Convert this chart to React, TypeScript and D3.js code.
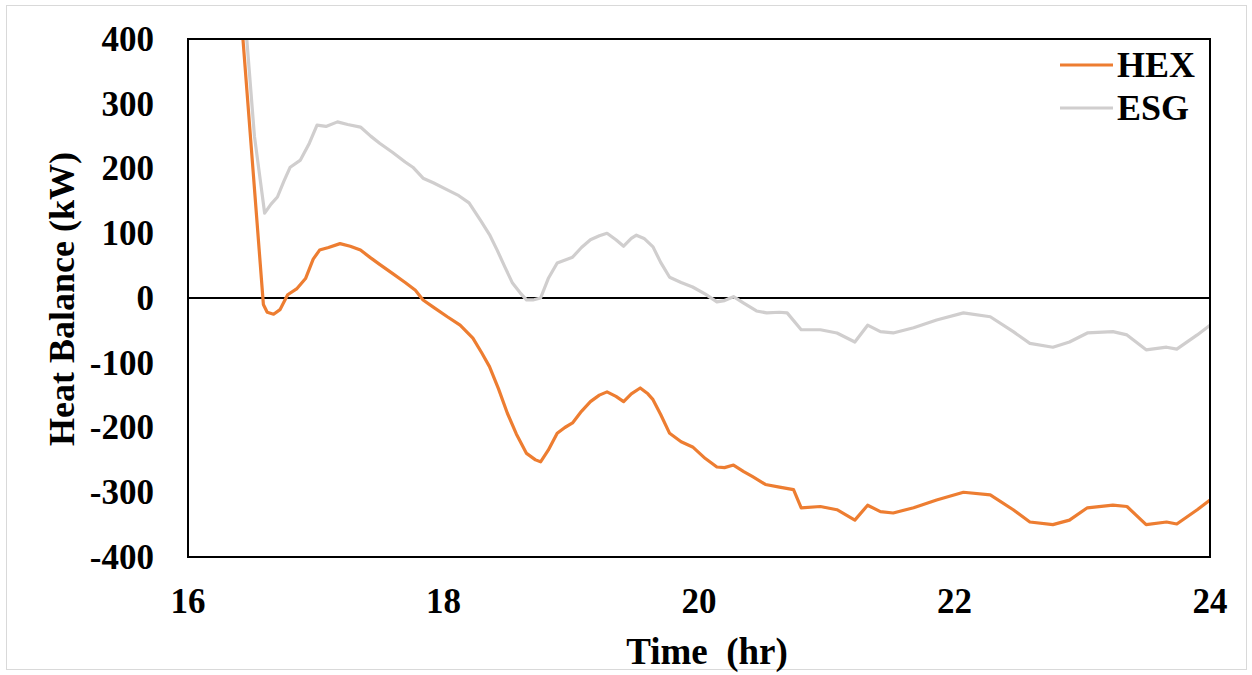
import React, { useEffect, useRef } from 'react';
import * as d3 from 'd3';

// values
const hexTime = [16.43, 16.59, 16.62, 16.67, 16.72, 16.78, 16.85, 16.92, 16.98, 17.03, 17.1, 17.19, 17.27, 17.35, 17.43, 17.5, 17.6, 17.7, 17.78, 17.84, 17.92, 18.03, 18.13, 18.23, 18.3, 18.36, 18.43, 18.5, 18.57, 18.65, 18.72, 18.76, 18.82, 18.89, 18.95, 19.01, 19.08, 19.15, 19.22, 19.28, 19.35, 19.41, 19.47, 19.54, 19.6, 19.64, 19.7, 19.77, 19.86, 19.95, 20.05, 20.14, 20.2, 20.27, 20.35, 20.42, 20.52, 20.63, 20.74, 20.8, 20.95, 21.08, 21.22, 21.32, 21.42, 21.52, 21.68, 21.86, 22.07, 22.28, 22.46, 22.59, 22.77, 22.9, 23.04, 23.24, 23.35, 23.5, 23.66, 23.74, 23.9, 24.0];
const hexValue = [400, -10, -22, -25, -18, 5, 14, 30, 60, 74, 78, 84, 80, 74, 62, 52, 38, 24, 12, -3, -14, -29, -42, -62, -85, -106, -140, -178, -210, -240, -250, -253, -235, -209, -200, -193, -175, -160, -150, -145, -152, -160, -148, -139, -148, -157, -180, -209, -222, -230, -248, -261, -262, -258, -268, -276, -288, -292, -296, -324, -322, -327, -343, -320, -330, -332, -324, -312, -300, -304, -327, -346, -350, -343, -324, -320, -322, -350, -346, -349, -327, -312];

const esgTime = [16.46, 16.52, 16.6, 16.65, 16.7, 16.75, 16.8, 16.88, 16.95, 17.01, 17.08, 17.17, 17.25, 17.35, 17.43, 17.5, 17.6, 17.7, 17.76, 17.84, 17.92, 18.03, 18.12, 18.2, 18.29, 18.36, 18.42, 18.48, 18.54, 18.6, 18.65, 18.7, 18.76, 18.82, 18.89, 19.01, 19.08, 19.15, 19.22, 19.28, 19.35, 19.41, 19.47, 19.51, 19.57, 19.64, 19.7, 19.77, 19.86, 19.95, 20.05, 20.14, 20.2, 20.27, 20.35, 20.45, 20.53, 20.63, 20.69, 20.8, 20.95, 21.08, 21.22, 21.32, 21.42, 21.52, 21.68, 21.86, 22.07, 22.28, 22.46, 22.59, 22.77, 22.9, 23.04, 23.24, 23.35, 23.5, 23.66, 23.74, 23.9, 24.0];
const esgValue = [400, 250, 131, 145, 156, 180, 202, 213, 239, 267, 265, 272, 268, 264, 250, 239, 225, 210, 202, 185, 178, 167, 158, 147, 120, 98, 74, 48, 23, 8, -3, -3, 0, 30, 54, 63, 78, 90, 96, 100, 90, 80, 92, 97, 92, 79, 55, 32, 24, 17, 6, -6, -4, 2, -8, -20, -23, -22, -23, -49, -49, -54, -68, -42, -52, -54, -46, -34, -23, -29, -52, -70, -76, -68, -54, -52, -57, -80, -76, -79, -57, -42];

const xTicks = [16, 18, 20, 22, 24];
const yTicks = [400, 300, 200, 100, 0, -100, -200, -300, -400];

const seriesNames = ['HEX', 'ESG'];
const seriesColors = ['#ED7D31', '#D0CECE'];

const W = 1252;
const H = 675;
const margin = { top: 39, right: 42, bottom: 118, left: 188 };
const FONT = '"Liberation Serif", "Times New Roman", serif';

const App: React.FC = () => {
    const ref = useRef<SVGSVGElement>(null);

    useEffect(() => {
        const svg = d3.select(ref.current);
        svg.selectAll('*').remove();

        const innerW = W - margin.left - margin.right;
        const innerH = H - margin.top - margin.bottom;

        // outer picture frame
        svg.append('rect')
            .attr('x', 6.5).attr('y', 5.5)
            .attr('width', 1240).attr('height', 664)
            .attr('fill', 'white').attr('stroke', '#d9d9d9').attr('stroke-width', 1);

        const x = d3.scaleLinear().domain([16, 24]).range([0, innerW]);
        const y = d3.scaleLinear().domain([-400, 400]).range([innerH, 0]);

        const g = svg.append('g').attr('transform', `translate(${margin.left},${margin.top})`);

        g.append('clipPath').attr('id', 'plotclip')
            .append('rect').attr('width', innerW).attr('height', innerH);

        // zero line
        g.append('line')
            .attr('x1', 0).attr('x2', innerW)
            .attr('y1', y(0)).attr('y2', y(0))
            .attr('stroke', 'black').attr('stroke-width', 2);

        const line = d3.line<[number, number]>()
            .x(d => x(d[0]))
            .y(d => y(d[1]));

        const series: [number, number][][] = [
            hexTime.map((t, i) => [t, hexValue[i]]),
            esgTime.map((t, i) => [t, esgValue[i]]),
        ];

        // draw ESG first so HEX sits on top
        [1, 0].forEach(i => {
            g.append('path')
                .datum(series[i])
                .attr('clip-path', 'url(#plotclip)')
                .attr('fill', 'none')
                .attr('stroke', seriesColors[i])
                .attr('stroke-width', 3.2)
                .attr('stroke-linejoin', 'round')
                .attr('d', line);
        });

        // plot frame
        g.append('rect')
            .attr('width', innerW).attr('height', innerH)
            .attr('fill', 'none').attr('stroke', 'black').attr('stroke-width', 2);

        // y tick labels
        g.selectAll('.ylab')
            .data(yTicks)
            .enter()
            .append('text')
            .attr('class', 'ylab')
            .attr('x', -34)
            .attr('y', d => y(d))
            .attr('dy', '0.34em')
            .attr('text-anchor', 'end')
            .attr('font-family', FONT).attr('font-weight', 'bold').attr('font-size', 35)
            .text(d => d);

        // x tick labels
        g.selectAll('.xlab')
            .data(xTicks)
            .enter()
            .append('text')
            .attr('class', 'xlab')
            .attr('x', d => x(d))
            .attr('y', innerH + 56)
            .attr('text-anchor', 'middle')
            .attr('font-family', FONT).attr('font-weight', 'bold').attr('font-size', 35)
            .text(d => d);

        // axis titles
        svg.append('text')
            .attr('x', 707)
            .attr('y', 664)
            .attr('text-anchor', 'middle')
            .attr('font-family', FONT).attr('font-weight', 'bold').attr('font-size', 37)
            .attr('xml:space', 'preserve')
            .text('Time  (hr)');

        svg.append('text')
            .attr('transform', `translate(74,299) rotate(-90)`)
            .attr('text-anchor', 'middle')
            .attr('font-family', FONT).attr('font-weight', 'bold').attr('font-size', 36)
            .text('Heat Balance (kW)');

        // legend
        const legend = svg.append('g');
        seriesNames.forEach((name, i) => {
            const ly = 65 + i * 43;
            legend.append('line')
                .attr('x1', 1060).attr('x2', 1113)
                .attr('y1', ly).attr('y2', ly)
                .attr('stroke', seriesColors[i]).attr('stroke-width', 3);
            legend.append('text')
                .attr('x', 1117).attr('y', ly)
                .attr('dy', '0.34em')
                .attr('font-family', FONT).attr('font-weight', 'bold').attr('font-size', 36)
                .text(name);
        });
    }, []);

    return (
        <svg ref={ref} width={W} height={H}
            style={{ position: 'absolute', left: 0, top: 0, background: 'white' }} />
    );
};

export default App;
